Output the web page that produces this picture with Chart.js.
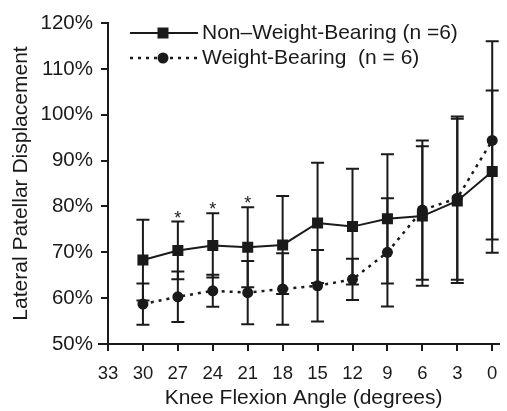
<!DOCTYPE html>
<html>
<head>
<meta charset="utf-8">
<script src="https://cdn.jsdelivr.net/npm/chart.js@4.4.1/dist/chart.umd.min.js"></script>
<style>
  body { margin: 0; background: #fff; }
  #wrap { width: 507px; height: 411px; }
</style>
</head>
<body>
<div id="wrap"><canvas id="chart"></canvas></div>
<script>
// knee flexion angles (degrees), axis runs 33 -> 0
const angles = [30, 27, 24, 21, 18, 15, 12, 9, 6, 3, 0];
const xTicks = [0, 3, 6, 9, 12, 15, 18, 21, 24, 27, 30, 33];

// lateral patellar displacement (%), mean and SD
const nwbMean = [68.3, 70.4, 71.5, 71.1, 71.6, 76.4, 75.6, 77.3, 77.9, 81.2, 87.6];
const nwbSD   = [8.8, 6.3, 7.0, 8.7, 10.7, 13.1, 12.6, 14.1, 15.2, 17.9, 17.7];
const wbMean  = [58.7, 60.3, 61.6, 61.2, 62.0, 62.7, 64.1, 70.0, 79.2, 81.8, 94.4];
const wbSD    = [4.5, 5.5, 3.5, 6.9, 7.8, 7.8, 4.5, 11.8, 15.2, 17.8, 21.6];

// angles marked with * (significant difference)
const starAngles = [27, 24, 21];

const seriesNames = ['Non\u2013Weight-Bearing (n =6)', 'Weight-Bearing  (n = 6)'];

const ink = '#1a1a1a';
const font = '"Liberation Sans", Arial, sans-serif';

// error bars + stars, drawn under the lines and markers
const errorBars = {
    id: 'errorBars',
    beforeDatasetsDraw(chart) {
        const ctx = chart.ctx;
        const xs = chart.scales.x;
        const ys = chart.scales.y;
        ctx.save();
        ctx.strokeStyle = ink;
        ctx.lineWidth = 2;
        [[nwbMean, nwbSD], [wbMean, wbSD]].forEach(([mean, sd]) => {
            angles.forEach((a, i) => {
                const px = xs.getPixelForValue(a);
                const top = ys.getPixelForValue(mean[i] + sd[i]);
                const bot = ys.getPixelForValue(mean[i] - sd[i]);
                ctx.beginPath();
                ctx.moveTo(px, top); ctx.lineTo(px, bot);
                ctx.moveTo(px - 6.5, top); ctx.lineTo(px + 6.5, top);
                ctx.moveTo(px - 6.5, bot); ctx.lineTo(px + 6.5, bot);
                ctx.stroke();
            });
        });
        // stars above the upper caps
        ctx.fillStyle = ink;
        ctx.font = '18px ' + font;
        ctx.textAlign = 'center';
        ctx.textBaseline = 'alphabetic';
        starAngles.forEach(a => {
            const i = angles.indexOf(a);
            const px = xs.getPixelForValue(a);
            const top = ys.getPixelForValue(Math.max(nwbMean[i] + nwbSD[i], wbMean[i] + wbSD[i]));
            ctx.fillText('*', px, top + 2);
        });
        ctx.restore();
    }
};

// legend with line + marker samples, plus the small x-axis overhang on the left
const lineLegend = {
    id: 'lineLegend',
    afterDraw(chart) {
        const ctx = chart.ctx;
        const area = chart.chartArea;
        ctx.save();
        ctx.strokeStyle = ink;
        ctx.fillStyle = ink;
        ctx.lineWidth = 2;
        ctx.beginPath();
        ctx.moveTo(area.left - 10, area.bottom); ctx.lineTo(area.left, area.bottom);
        ctx.stroke();
        // row 1: solid line with square
        ctx.beginPath();
        ctx.moveTo(130, 33); ctx.lineTo(198, 33);
        ctx.stroke();
        ctx.fillRect(157.5, 27.5, 11, 11);
        // row 2: dotted line with circle
        ctx.lineWidth = 2.5;
        ctx.setLineDash([3, 5]);
        ctx.beginPath();
        ctx.moveTo(130, 58); ctx.lineTo(198, 58);
        ctx.stroke();
        ctx.setLineDash([]);
        ctx.beginPath();
        ctx.arc(163, 58, 5.5, 0, Math.PI * 2);
        ctx.fill();
        ctx.font = '21px ' + font;
        ctx.textAlign = 'left';
        ctx.textBaseline = 'middle';
        ctx.fillText(seriesNames[0], 202, 33);
        ctx.fillText(seriesNames[1], 202, 58);
        ctx.restore();
    }
};

const ctx = document.getElementById('chart').getContext('2d');
const chart = new Chart(ctx, {
    type: 'line',
    data: {
        datasets: [{
            label: seriesNames[0],
            data: angles.map((a, i) => ({ x: a, y: nwbMean[i] })),
            borderColor: ink,
            backgroundColor: ink,
            borderWidth: 2,
            pointStyle: 'rect',
            pointRadius: 7.8,
            pointBorderWidth: 0,
            tension: 0
        }, {
            label: seriesNames[1],
            data: angles.map((a, i) => ({ x: a, y: wbMean[i] })),
            borderColor: ink,
            backgroundColor: ink,
            borderWidth: 2.5,
            borderDash: [3, 5],
            pointStyle: 'circle',
            pointRadius: 5.5,
            pointBorderWidth: 0,
            tension: 0
        }]
    },
    options: {
        responsive: true,
        maintainAspectRatio: false,
        animation: false,
        layout: { padding: { top: 23, right: 0, bottom: 0, left: 0 } },
        plugins: {
            legend: { display: false },
            tooltip: { enabled: false }
        },
        scales: {
            x: {
                type: 'linear',
                reverse: true,
                min: -0.6,
                max: 33,
                afterBuildTicks: scale => {
                    scale.ticks = xTicks.map(v => ({ value: v }));
                },
                afterFit: scale => { scale.height = 67; },
                grid: { drawOnChartArea: false, drawTicks: true, tickLength: 7, color: ink, lineWidth: 2 },
                border: { display: true, color: ink, width: 2 },
                ticks: {
                    color: ink,
                    font: { family: font, size: 18.5 },
                    padding: 12,
                    maxRotation: 0,
                    callback: v => String(v)
                },
                title: {
                    display: true,
                    text: 'Knee Flexion Angle (degrees)',
                    color: ink,
                    font: { family: font, size: 21 },
                    padding: { top: 0, bottom: 0 }
                }
            },
            y: {
                min: 50,
                max: 120,
                afterFit: scale => { scale.width = 108; },
                grid: { drawOnChartArea: false, drawTicks: true, tickLength: 7, color: ink, lineWidth: 2 },
                border: { display: true, color: ink, width: 2 },
                ticks: {
                    stepSize: 10,
                    color: ink,
                    font: { family: font, size: 20.5 },
                    padding: 8,
                    callback: v => v + '%'
                },
                title: {
                    display: true,
                    text: 'Lateral Patellar Displacement',
                    color: ink,
                    font: { family: font, size: 21 },
                    padding: { top: 9, bottom: 0 }
                }
            }
        }
    },
    plugins: [errorBars, lineLegend]
});
</script>
</body>
</html>
